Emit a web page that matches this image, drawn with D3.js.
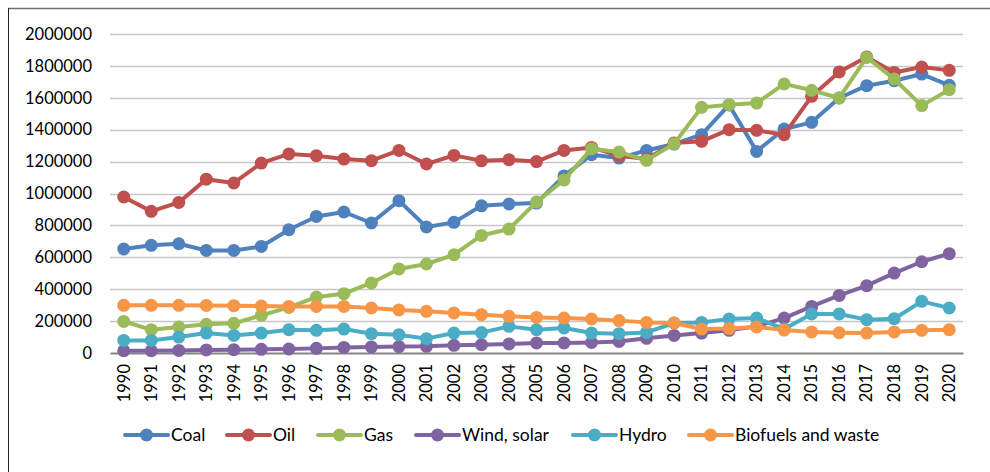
<!DOCTYPE html>
<html>
<head>
<meta charset="utf-8">
<script src="https://cdn.jsdelivr.net/npm/d3@7"></script>
<style>
  html, body { margin: 0; padding: 0; background: #fff; }
  svg { display: block; }
  text { font-family: Lato, "Open Sans", sans-serif; fill: #000; }
</style>
</head>
<body>
<svg id="chart" width="990" height="472"></svg>
<script>
const years = d3.range(1990, 2021).map(String);
const yTicks = [0, 200000, 400000, 600000, 800000, 1000000, 1200000, 1400000, 1600000, 1800000, 2000000];

const seriesNames = ["Coal", "Oil", "Gas", "Wind, solar", "Hydro", "Biofuels and waste"];
const seriesColors = ["#4F81BD", "#C0504D", "#9BBB59", "#8064A2", "#4BACC6", "#F79646"];

const coal = [652000, 675000, 685000, 643000, 643000, 668000, 773000, 856000, 884000, 815000,
  955000, 790000, 819000, 923000, 934000, 940000, 1110000, 1243000, 1222000, 1270000,
  1310000, 1369000, 1555000, 1264000, 1404000, 1446000, 1599000, 1676000, 1707000, 1749000, 1678000];
const oil = [978000, 888000, 944000, 1090000, 1066000, 1191000, 1248000, 1237000, 1216000, 1206000,
  1270000, 1185000, 1239000, 1205000, 1212000, 1200000, 1270000, 1289000, 1236000, 1216000,
  1317000, 1327000, 1400000, 1396000, 1369000, 1609000, 1762000, 1856000, 1759000, 1793000, 1772000];
const gas = [198000, 146000, 163000, 180000, 186000, 236000, 286000, 351000, 372000, 439000,
  527000, 558000, 616000, 737000, 777000, 947000, 1085000, 1280000, 1260000, 1208000,
  1312000, 1540000, 1557000, 1567000, 1687000, 1647000, 1599000, 1853000, 1718000, 1551000, 1651000];
const windSolar = [14000, 14000, 16000, 19000, 21000, 23000, 25000, 29000, 35000, 38000,
  40000, 42000, 48000, 52000, 57000, 63000, 63000, 66000, 72000, 92000,
  110000, 125000, 142000, 167000, 219000, 292000, 361000, 422000, 501000, 572000, 623000];
const hydro = [79000, 79000, 100000, 125000, 110000, 125000, 146000, 142000, 150000, 121000,
  115000, 90000, 125000, 128000, 167000, 146000, 157000, 125000, 121000, 129000,
  188000, 192000, 213000, 219000, 150000, 245000, 245000, 209000, 215000, 324000, 282000];
const biofuels = [299000, 299000, 299000, 298000, 297000, 294000, 292000, 292000, 292000, 282000,
  270000, 261000, 251000, 240000, 230000, 223000, 219000, 213000, 203000, 192000,
  188000, 150000, 153000, 163000, 144000, 132000, 127000, 125000, 132000, 142000, 146000];

const seriesValues = [coal, oil, gas, windSolar, hydro, biofuels];

const svg = d3.select("#chart");

// outer frame (only top and left visible)
svg.append("line").attr("x1", 8).attr("x2", 990).attr("y1", 8.5).attr("y2", 8.5)
  .attr("stroke", "#6e6e6e").attr("stroke-width", 1.5);
svg.append("line").attr("x1", 8.5).attr("x2", 8.5).attr("y1", 8).attr("y2", 472)
  .attr("stroke", "#222").attr("stroke-width", 1);

const plot = { left: 110, right: 963, top: 34, bottom: 353 };

const x = d3.scaleBand().domain(years).range([plot.left, plot.right]);
const y = d3.scaleLinear().domain([0, 2000000]).range([plot.bottom, plot.top]);

// gridlines
svg.append("g").selectAll("line").data(yTicks.filter(d => d > 0)).join("line")
  .attr("x1", plot.left).attr("x2", plot.right)
  .attr("y1", d => Math.round(y(d)) + 0.5).attr("y2", d => Math.round(y(d)) + 0.5)
  .attr("stroke", "#c6c6c6").attr("stroke-width", 1.3);

// y axis labels
const yAxis = d3.axisLeft(y).tickValues(yTicks).tickFormat(d3.format("d")).tickSize(0).tickPadding(18);
const yg = svg.append("g").attr("transform", `translate(${plot.left},0)`).call(yAxis);
yg.select(".domain").remove();
yg.selectAll("text").style("font-family", "Lato, sans-serif").style("font-size", "16.5px").attr("fill", "#000");

// x axis
const xAxis = d3.axisBottom(x).tickSize(0).tickPadding(0);
const xg = svg.append("g").attr("transform", `translate(0,${plot.bottom})`).call(xAxis);
xg.select(".domain").attr("stroke", "#868686").attr("stroke-width", 2);
xg.selectAll("text")
  .style("font-family", "Lato, sans-serif").style("font-size", "16.5px").attr("fill", "#000")
  .attr("transform", "rotate(-90)")
  .attr("x", -11).attr("y", 0).attr("dy", "0.35em")
  .attr("text-anchor", "end");

// lines
const line = d3.line().x((d, i) => x(years[i]) + x.bandwidth() / 2).y(d => y(d));
seriesValues.forEach((vals, si) => {
  const g = svg.append("g");
  g.append("path").datum(vals).attr("d", line)
    .attr("fill", "none").attr("stroke", seriesColors[si]).attr("stroke-width", 4)
    .attr("stroke-linejoin", "round");
  g.selectAll("circle").data(vals).join("circle")
    .attr("cx", (d, i) => x(years[i]) + x.bandwidth() / 2)
    .attr("cy", d => y(d))
    .attr("r", 6.5)
    .attr("fill", seriesColors[si]);
});

// legend
const legendX = [125, 227, 318, 416, 573, 689];
const legendY = 435;
const lg = svg.append("g");
seriesNames.forEach((name, i) => {
  const gx = legendX[i];
  lg.append("line").attr("x1", gx).attr("x2", gx + 43).attr("y1", legendY).attr("y2", legendY)
    .attr("stroke", seriesColors[i]).attr("stroke-width", 4).attr("stroke-linecap", "round");
  lg.append("circle").attr("cx", gx + 21.5).attr("cy", legendY).attr("r", 6.5).attr("fill", seriesColors[i]);
  lg.append("text").attr("x", gx + 46).attr("y", legendY).attr("dy", "0.36em")
    .style("font-size", "17.5px").text(name);
});
</script>
</body>
</html>
